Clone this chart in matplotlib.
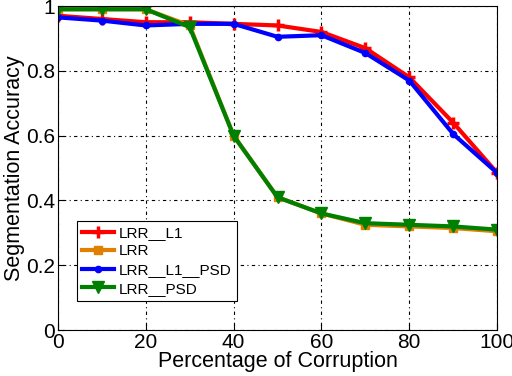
import matplotlib
matplotlib.use('Agg')
import matplotlib.pyplot as plt

plt.rcParams['font.family'] = ['Liberation Sans', 'DejaVu Sans']

corruption = [0, 10, 20, 30, 40, 50, 60, 70, 80, 90, 100]
lrr_l1 = [0.97, 0.96, 0.95, 0.95, 0.945, 0.94, 0.92, 0.87, 0.78, 0.64, 0.485]
lrr = [0.99, 0.99, 0.99, 0.94, 0.60, 0.41, 0.36, 0.325, 0.32, 0.315, 0.305]
lrr_l1_psd = [0.965, 0.955, 0.94, 0.945, 0.945, 0.905, 0.91, 0.855, 0.77, 0.605, 0.485]
lrr_psd = [0.99, 0.99, 0.99, 0.935, 0.60, 0.41, 0.36, 0.33, 0.325, 0.32, 0.31]

fig = plt.figure(figsize=(5.12, 3.76), dpi=100)
ax = fig.add_axes([0.113, 0.122, 0.858, 0.862])

ax.plot(corruption, lrr_l1, color='red', marker='+', markersize=8, mew=2.5, lw=3, label='LRR__L1')
ax.plot(corruption, lrr, color='#e08000', marker='s', markersize=6, lw=3, label='LRR')
ax.plot(corruption, lrr_l1_psd, color='blue', marker='.', markersize=9, lw=3, label='LRR__L1__PSD')
ax.plot(corruption, lrr_psd, color='green', marker='v', markersize=8, lw=3, label='LRR__PSD')

ax.set_xlim(0, 100)
ax.set_ylim(0, 1)
ax.set_xticks([0, 20, 40, 60, 80, 100])
ax.set_yticks([0, 0.2, 0.4, 0.6, 0.8, 1])
ax.set_yticklabels(['0', '0.2', '0.4', '0.6', '0.8', '1'])
ax.grid(True, color='black', linestyle=(0, (1, 3, 3, 3)), linewidth=0.8)
ax.tick_params(labelsize=15, direction='in', length=4, pad=2)
ax.set_xlabel('Percentage of Corruption', fontsize=15.5, labelpad=-1)
ax.set_ylabel('Segmentation Accuracy', fontsize=15.5, labelpad=1)

leg = ax.legend(loc='lower left', bbox_to_anchor=(0.043, 0.09), borderaxespad=0,
                fontsize=11, fancybox=False, edgecolor='black', framealpha=1,
                handlelength=2.1, labelspacing=0.3, borderpad=0.35, handletextpad=0.3)
leg.get_frame().set_linewidth(0.8)

fig.savefig('out.png', dpi=100)
